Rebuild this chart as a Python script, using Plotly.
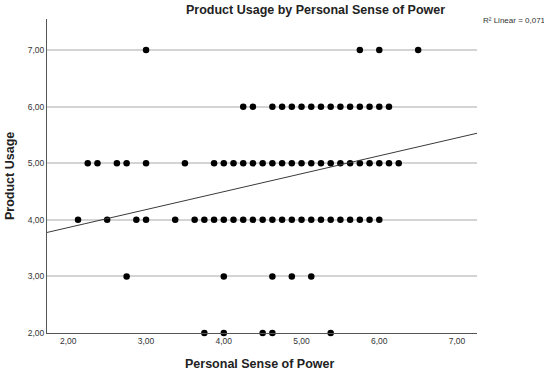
import plotly.graph_objects as go

# Data (Personal Sense of Power vs Product Usage)
power_at_7 = [3.0, 5.75, 6.0, 6.5]
power_at_6 = [4.25, 4.375, 4.625, 4.75, 4.875, 5.0, 5.125, 5.25, 5.375, 5.5,
              5.625, 5.75, 5.875, 6.0, 6.125]
power_at_5 = [2.25, 2.375, 2.625, 2.75, 3.0, 3.5, 3.875, 4.0, 4.125, 4.25,
              4.375, 4.5, 4.625, 4.75, 4.875, 5.0, 5.125, 5.25, 5.375, 5.5,
              5.625, 5.75, 5.875, 6.0, 6.125, 6.25]
power_at_4 = [2.125, 2.5, 2.875, 3.0, 3.375, 3.625, 3.75, 3.875, 4.0, 4.125,
              4.25, 4.375, 4.5, 4.625, 4.75, 4.875, 5.0, 5.125, 5.25, 5.375,
              5.5, 5.625, 5.75, 5.875, 6.0]
power_at_3 = [2.75, 4.0, 4.625, 4.875, 5.125]
power_at_2 = [3.75, 4.0, 4.5, 4.625, 5.375]

usage_levels = [7, 6, 5, 4, 3, 2]
tick_values = [2, 3, 4, 5, 6, 7]
tick_labels = ["2,00", "3,00", "4,00", "5,00", "6,00", "7,00"]

fit_intercept = 3.23
fit_slope = 0.317
r2_text = "R² Linear = 0,071"

x_range = [1.726, 7.257]
y_range = [2.0, 7.55]

rows = [power_at_7, power_at_6, power_at_5, power_at_4, power_at_3, power_at_2]
xs, ys = [], []
for lvl, row in zip(usage_levels, rows):
    xs += row
    ys += [lvl] * len(row)

font = "Liberation Sans, Arial, sans-serif"

fig = go.Figure()
fig.add_trace(go.Scatter(
    x=xs, y=ys, mode="markers",
    marker=dict(color="black", size=6.5, line=dict(width=0)),
    showlegend=False, cliponaxis=False,
))
fig.add_trace(go.Scatter(
    x=x_range, y=[fit_intercept + fit_slope * v for v in x_range],
    mode="lines", line=dict(color="#3a3a3a", width=1),
    showlegend=False,
))

fig.update_layout(
    width=544, height=372,
    margin=dict(l=47, r=67, t=19, b=39),
    paper_bgcolor="white", plot_bgcolor="white",
    font=dict(family=font, size=9, color="#333333"),
    xaxis=dict(
        range=x_range, tickvals=tick_values, ticktext=tick_labels,
        showgrid=False, zeroline=False, showline=True, linecolor="#555555",
        linewidth=1, ticks="", tickfont=dict(size=8.5, color="#333333"),
        automargin=False,
    ),
    yaxis=dict(
        range=y_range, tickvals=tick_values, ticktext=tick_labels,
        showgrid=True, gridcolor="#d4d4d4", gridwidth=1.5,
        zeroline=False, showline=True, linecolor="#555555",
        linewidth=1, ticks="", tickfont=dict(size=8.5, color="#333333"),
        automargin=False,
    ),
    annotations=[
        dict(text="<b>Product Usage by Personal Sense of Power</b>",
             xref="paper", yref="paper", x=(315 - 47) / 430, y=1 + (19 - 10) / 314,
             showarrow=False, xanchor="center", yanchor="middle",
             font=dict(size=12.5, color="#222222", family=font)),
        dict(text="<b>Personal Sense of Power</b>",
             xref="paper", yref="paper", x=(259 - 47) / 430, y=-(364 - 333) / 314,
             showarrow=False, xanchor="center", yanchor="middle",
             font=dict(size=12.5, color="#222222", family=font)),
        dict(text="<b>Product Usage</b>",
             xref="paper", yref="paper", x=-(47 - 10) / 430, y=(333 - 176) / 314,
             showarrow=False, xanchor="center", yanchor="middle", textangle=-90,
             font=dict(size=12.5, color="#222222", family=font)),
        dict(text=r2_text,
             xref="paper", yref="paper", x=(481 - 47) / 430, y=1 - (20 - 19) / 314,
             showarrow=False, xanchor="left", yanchor="middle",
             font=dict(size=8, color="#333333", family=font)),
    ],
)

fig.write_html("out.html")
